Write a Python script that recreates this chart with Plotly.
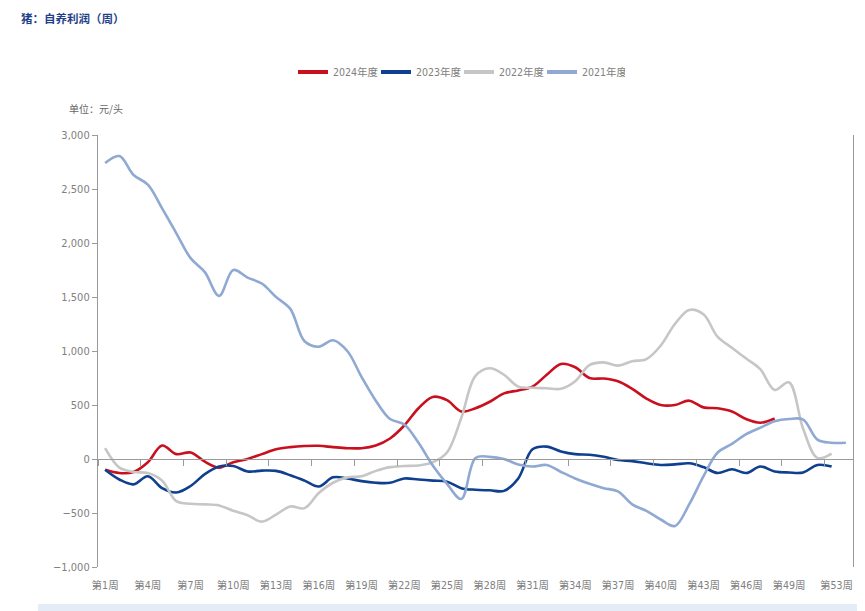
import plotly.graph_objects as go

weeks = list(range(1, 54))
tick_weeks = [1, 4, 7, 10, 13, 16, 19, 22, 25, 28, 31, 34, 37, 40, 43, 46, 49]
tick_text = ["第%d周" % w for w in tick_weeks]
last_week_label = "第53周"
boundary_ticks = [0.5 + 3 * k for k in range(18)] + [53.5]
y_ticks = [-1000, -500, 0, 500, 1000, 1500, 2000, 2500, 3000]

y2024 = [-100, -130, -120, -30, 125, 45, 60, -25, -80, -30, 0, 45, 90, 110, 120, 122,
         110, 100, 100, 125, 190, 310, 470, 575, 545, 440, 470, 530, 608, 635, 670, 780,
         880, 850, 750, 745, 720, 650, 560, 500, 500, 540, 478, 470, 440, 370, 336, 375]
y2023 = [-100, -190, -235, -160, -270, -310, -250, -140, -70, -65, -115, -108, -110, -150,
         -200, -255, -170, -180, -205, -220, -220, -180, -190, -200, -210, -270, -285, -290,
         -295, -180, 90, 115, 70, 45, 40, 20, -10, -20, -40, -55, -50, -40, -75, -130, -95,
         -130, -70, -115, -125, -125, -55, -70]
y2022 = [100, -80, -120, -130, -200, -390, -415, -420, -430, -480, -520, -580, -515, -440,
         -455, -315, -220, -170, -160, -110, -75, -65, -60, -30, 60, 380, 770, 840, 780, 670,
         660, 655, 650, 720, 870, 895, 865, 905, 925, 1050, 1250, 1380, 1340, 1130, 1030,
         930, 830, 640, 710, 280, 10, 50]
y2021 = [2740, 2805, 2630, 2540, 2320, 2090, 1860, 1730, 1510, 1750, 1680, 1625, 1500, 1390,
         1090, 1040, 1100, 1000, 760, 540, 370, 320, 150, -60, -230, -370, 10, 20, 0, -50,
         -70, -56, -120, -180, -230, -270, -300, -420, -480, -560, -620, -420, -160, 60, 140,
         230, 290, 350, 370, 365, 180, 150, 150]

series = [
    ("2024年度", y2024, "#C8101E"),
    ("2023年度", y2023, "#0F3F8F"),
    ("2022年度", y2022, "#C6C6C6"),
    ("2021年度", y2021, "#8FA9D3"),
]

fig = go.Figure()
for name, vals, color in series:
    fig.add_trace(go.Scatter(
        x=weeks[:len(vals)], y=vals, name=name, mode="lines",
        line=dict(color=color, width=2.6, shape="spline", smoothing=1.0),
        hoverinfo="skip", showlegend=False, legendgroup=name,
    ))
for name, vals, color in series:
    # legend entries with thicker swatch lines
    fig.add_trace(go.Scatter(
        x=[None], y=[None], name=name, mode="lines",
        line=dict(color=color, width=4), hoverinfo="skip", legendgroup=name,
    ))

# invisible trace to activate the zero-line axis
fig.add_trace(go.Scatter(x=[1], y=[0], xaxis="x2", mode="markers",
                         marker=dict(opacity=0), showlegend=False, hoverinfo="skip"))

narrow = "Liberation Sans Narrow, DejaVu Sans Condensed, Roboto, Noto Sans CJK SC, sans-serif"

# page body has an 8px margin; plot area kept at screen x 98..853, y 135..567
PL, PT, PW, PH = 98, 135, 755, 432


def px(xs):
    return (xs - PL) / PW


def py(ys):
    return (PT + PH - ys) / PH


fig.update_layout(
    width=849, height=603,
    margin=dict(l=90, r=4, t=127, b=44),
    paper_bgcolor="white", plot_bgcolor="white",
    font=dict(family=narrow, size=11, color="#7f7f7f"),
    showlegend=True,
    legend=dict(orientation="h", x=px(459), xanchor="center", y=py(72), yanchor="middle",
                font=dict(family=narrow, size=10.5, color="#808080"),
                entrywidth=38, entrywidthmode="pixels", itemwidth=30,
                bgcolor="rgba(0,0,0,0)"),
    xaxis=dict(range=[0.5, 53.5], tickmode="array", tickvals=tick_weeks, ticktext=tick_text,
               showgrid=False, zeroline=False, showline=False, ticks="outside",
               ticklen=8, tickcolor="rgba(0,0,0,0)",
               tickfont=dict(family=narrow, size=10.5, color="#808080")),
    xaxis2=dict(range=[0.5, 53.5], overlaying="x", anchor="free", position=0.25,
                side="bottom", tickmode="array", tickvals=boundary_ticks,
                showticklabels=False, ticks="outside", ticklen=6, tickcolor="#9a9a9a",
                showline=True, linecolor="#9a9a9a", linewidth=1.2, showgrid=False,
                zeroline=False),
    yaxis=dict(range=[-1000, 3000], tickmode="array", tickvals=y_ticks,
               tickformat=",", showgrid=False, zeroline=False, showline=True,
               linecolor="#9a9a9a", linewidth=1.2, mirror=True, ticks="outside",
               ticklen=5, tickcolor="#9a9a9a",
               tickfont=dict(family=narrow, size=11, color="#808080")),
    shapes=[
        dict(type="rect", xref="paper", yref="paper",
             x0=px(38), x1=px(866), y0=py(612), y1=py(604),
             line=dict(width=0), fillcolor="#E4ECF7", layer="below"),
    ],
    annotations=[
        dict(text="<b>猪：自养利润（周）</b>", xref="paper", yref="paper",
             x=px(19), y=py(18), xanchor="left", yanchor="middle",
             showarrow=False, font=dict(family="Noto Sans CJK SC", size=11.5, color="#1F3F8A")),
        dict(text="单位：元/头", xref="paper", yref="paper",
             x=px(67), y=py(108), xanchor="left", yanchor="middle",
             showarrow=False, font=dict(family="Noto Sans CJK SC", size=10, color="#666666")),
        dict(text=last_week_label, xref="paper", yref="paper",
             x=px(855), y=py(585), xanchor="right", yanchor="middle",
             showarrow=False, font=dict(family=narrow, size=10.5, color="#808080")),
    ],
)

fig.write_html("out.html")
